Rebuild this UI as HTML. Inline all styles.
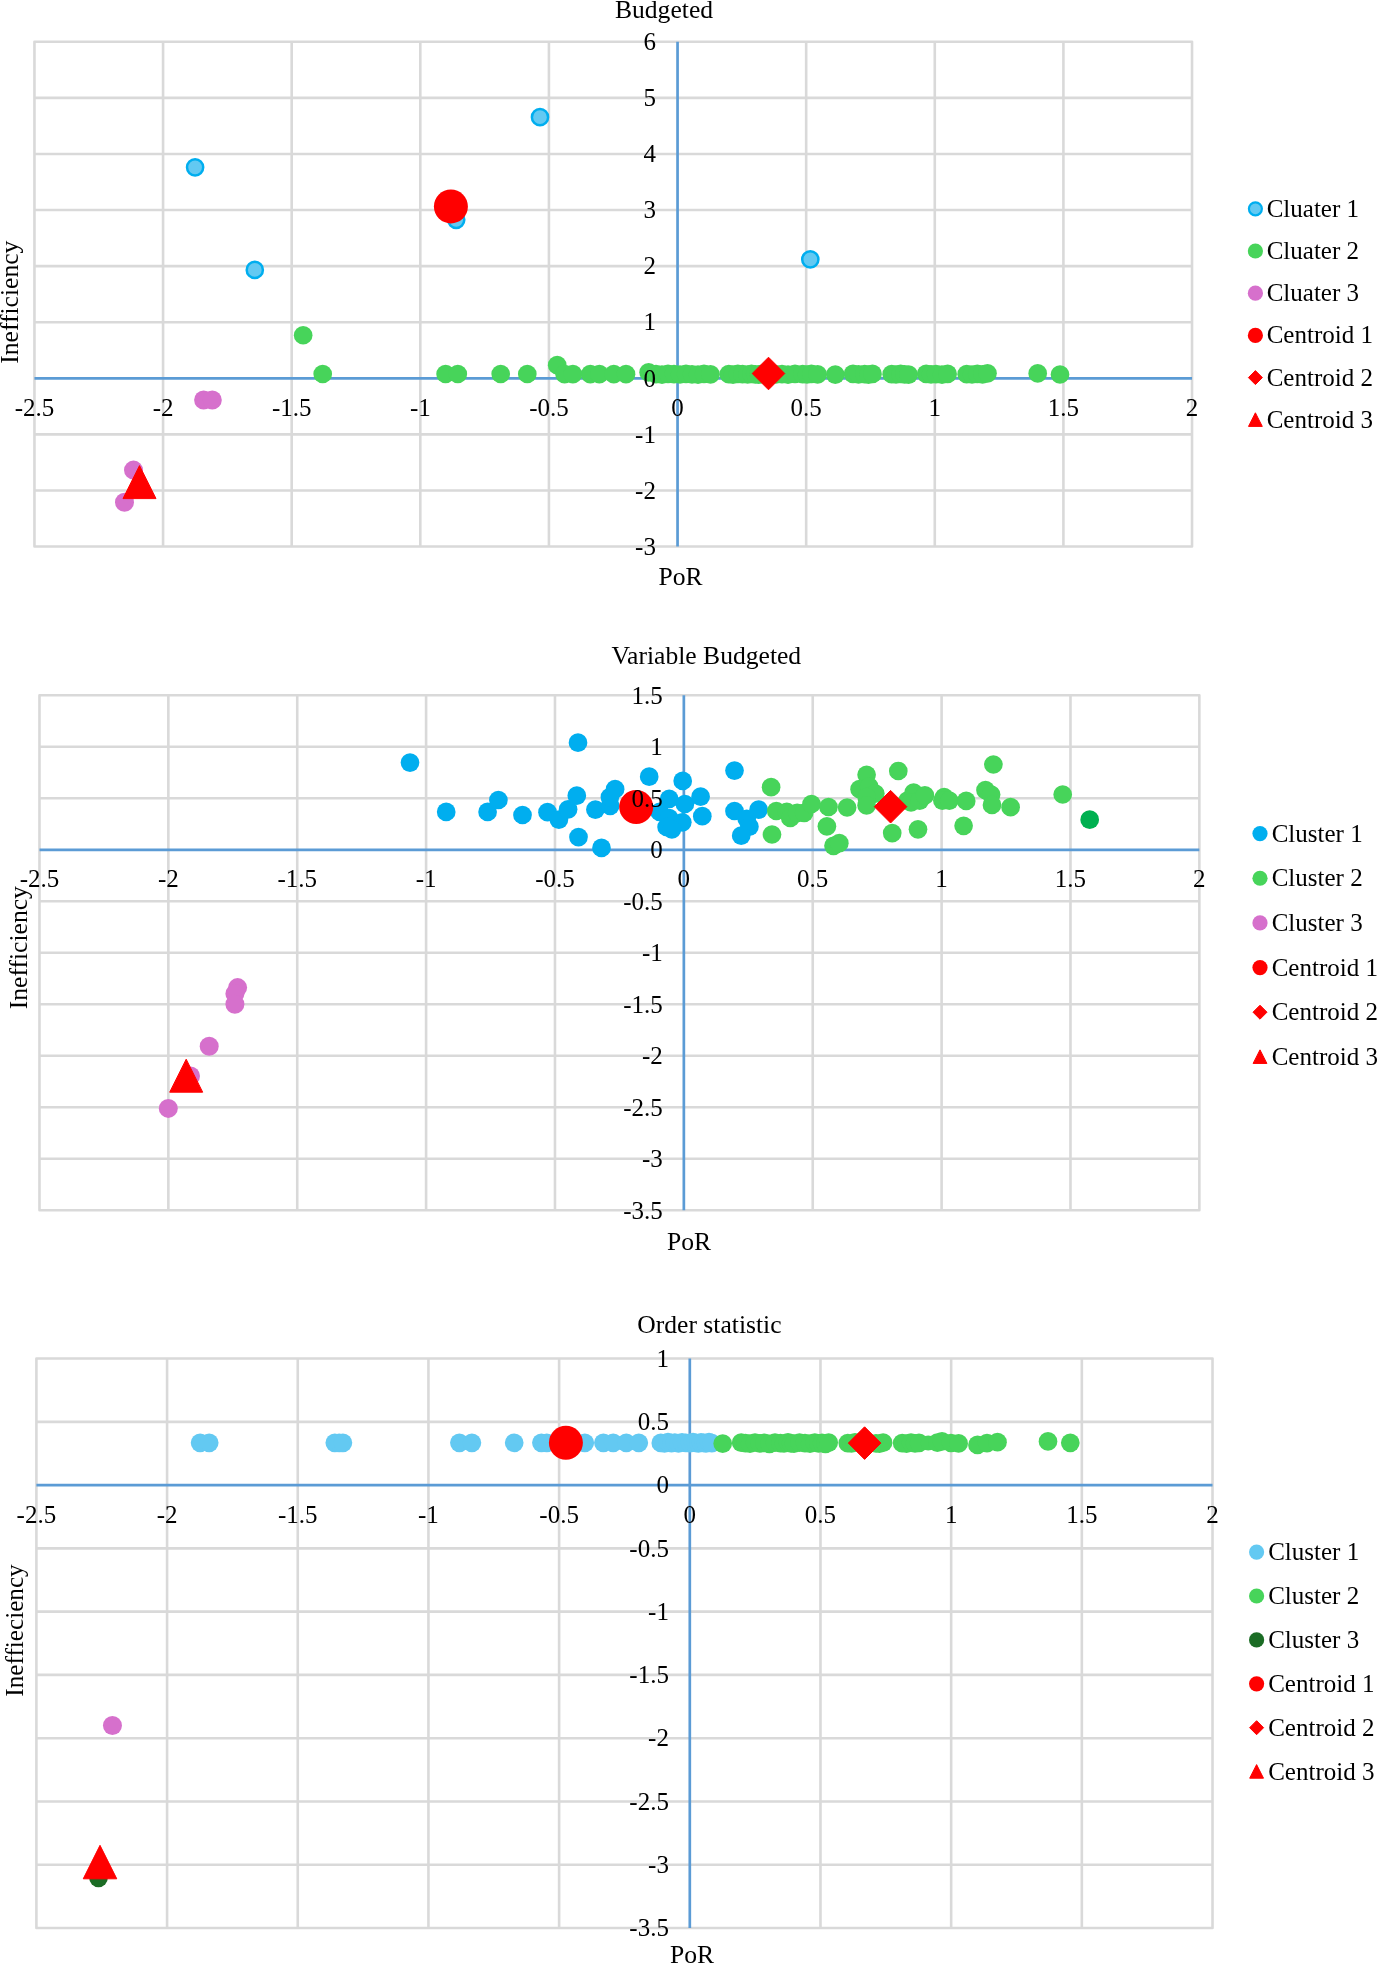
<!DOCTYPE html>
<html><head><meta charset="utf-8"><title>Clusters</title>
<style>html,body{margin:0;padding:0;background:#fff;}svg{display:block;will-change:transform;}text{font-family:"Liberation Serif",serif;font-size:25.6px;fill:#000;}.s,.s text{font-size:25px;}</style>
</head><body>
<svg width="1378" height="1965" viewBox="0 0 1378 1965">
<rect width="1378" height="1965" fill="#fff"/>
<g stroke="#d9d9d9" stroke-width="2.6" fill="none">
<path d="M34.45 490.46H1192.03M34.45 434.38H1192.03M34.45 322.22H1192.03M34.45 266.14H1192.03M34.45 210.06H1192.03M34.45 153.98H1192.03M34.45 97.9H1192.03M163.07 41.82V546.54M291.69 41.82V546.54M420.31 41.82V546.54M548.93 41.82V546.54M806.17 41.82V546.54M934.79 41.82V546.54M1063.41 41.82V546.54"/>
<rect x="34.45" y="41.82" width="1157.58" height="504.72" stroke-linejoin="round"/>
</g>
<g stroke="#5b9bd5" stroke-width="2.7" fill="none">
<path d="M34.45 378.3H1192.03"/>
<path d="M677.55 41.82V546.54"/>
</g>
<circle cx="195.1" cy="167.3" r="8.1" fill="#63c9f2" stroke="#00aeef" stroke-width="2.5"/>
<circle cx="254.8" cy="269.9" r="8.1" fill="#63c9f2" stroke="#00aeef" stroke-width="2.5"/>
<circle cx="540" cy="117.2" r="8.1" fill="#63c9f2" stroke="#00aeef" stroke-width="2.5"/>
<circle cx="456.2" cy="219.8" r="8.1" fill="#63c9f2" stroke="#00aeef" stroke-width="2.5"/>
<circle cx="810.3" cy="259.4" r="8.1" fill="#63c9f2" stroke="#00aeef" stroke-width="2.5"/>
<circle cx="303.15" cy="335.25" r="9.35" fill="#47d45a"/>
<circle cx="322.7" cy="374" r="9.35" fill="#47d45a"/>
<circle cx="445.6" cy="374" r="9.35" fill="#47d45a"/>
<circle cx="457.8" cy="374" r="9.35" fill="#47d45a"/>
<circle cx="500.7" cy="374" r="9.35" fill="#47d45a"/>
<circle cx="527.3" cy="374" r="9.35" fill="#47d45a"/>
<circle cx="557.2" cy="365.2" r="9.35" fill="#47d45a"/>
<circle cx="648.6" cy="372.3" r="9.35" fill="#47d45a"/>
<circle cx="564.6" cy="374.2" r="9.35" fill="#47d45a"/>
<circle cx="572.9" cy="374.2" r="9.35" fill="#47d45a"/>
<circle cx="590.3" cy="374.2" r="9.35" fill="#47d45a"/>
<circle cx="599.4" cy="374.2" r="9.35" fill="#47d45a"/>
<circle cx="613.8" cy="374.2" r="9.35" fill="#47d45a"/>
<circle cx="626" cy="374.2" r="9.35" fill="#47d45a"/>
<circle cx="656" cy="374.1" r="9.35" fill="#47d45a"/>
<circle cx="662" cy="374.6" r="9.35" fill="#47d45a"/>
<circle cx="668" cy="373.9" r="9.35" fill="#47d45a"/>
<circle cx="674" cy="374.2" r="9.35" fill="#47d45a"/>
<circle cx="680" cy="374.5" r="9.35" fill="#47d45a"/>
<circle cx="686" cy="373.9" r="9.35" fill="#47d45a"/>
<circle cx="692" cy="374.3" r="9.35" fill="#47d45a"/>
<circle cx="698" cy="374.6" r="9.35" fill="#47d45a"/>
<circle cx="704" cy="373.8" r="9.35" fill="#47d45a"/>
<circle cx="710.5" cy="374.4" r="9.35" fill="#47d45a"/>
<circle cx="728.8" cy="374.1" r="9.35" fill="#47d45a"/>
<circle cx="733" cy="374.6" r="9.35" fill="#47d45a"/>
<circle cx="737.8" cy="373.9" r="9.35" fill="#47d45a"/>
<circle cx="742.5" cy="374.2" r="9.35" fill="#47d45a"/>
<circle cx="747.6" cy="374.5" r="9.35" fill="#47d45a"/>
<circle cx="751.5" cy="373.9" r="9.35" fill="#47d45a"/>
<circle cx="755.2" cy="374.3" r="9.35" fill="#47d45a"/>
<circle cx="758.5" cy="374.6" r="9.35" fill="#47d45a"/>
<circle cx="762" cy="373.8" r="9.35" fill="#47d45a"/>
<circle cx="776" cy="374.4" r="9.35" fill="#47d45a"/>
<circle cx="782" cy="374.1" r="9.35" fill="#47d45a"/>
<circle cx="788" cy="374.6" r="9.35" fill="#47d45a"/>
<circle cx="795" cy="373.9" r="9.35" fill="#47d45a"/>
<circle cx="802.7" cy="374.2" r="9.35" fill="#47d45a"/>
<circle cx="807" cy="374.5" r="9.35" fill="#47d45a"/>
<circle cx="811.4" cy="373.9" r="9.35" fill="#47d45a"/>
<circle cx="817.6" cy="374.3" r="9.35" fill="#47d45a"/>
<circle cx="835.3" cy="374.6" r="9.35" fill="#47d45a"/>
<circle cx="853" cy="373.8" r="9.35" fill="#47d45a"/>
<circle cx="858.5" cy="374.4" r="9.35" fill="#47d45a"/>
<circle cx="864.7" cy="374.1" r="9.35" fill="#47d45a"/>
<circle cx="868.5" cy="374.6" r="9.35" fill="#47d45a"/>
<circle cx="872.5" cy="373.9" r="9.35" fill="#47d45a"/>
<circle cx="891.7" cy="374.2" r="9.35" fill="#47d45a"/>
<circle cx="896" cy="374.5" r="9.35" fill="#47d45a"/>
<circle cx="900.6" cy="373.9" r="9.35" fill="#47d45a"/>
<circle cx="904.5" cy="374.3" r="9.35" fill="#47d45a"/>
<circle cx="908.6" cy="374.6" r="9.35" fill="#47d45a"/>
<circle cx="926.2" cy="373.8" r="9.35" fill="#47d45a"/>
<circle cx="931" cy="374.4" r="9.35" fill="#47d45a"/>
<circle cx="936" cy="374.1" r="9.35" fill="#47d45a"/>
<circle cx="942" cy="374.6" r="9.35" fill="#47d45a"/>
<circle cx="947.6" cy="373.9" r="9.35" fill="#47d45a"/>
<circle cx="966.7" cy="374.2" r="9.35" fill="#47d45a"/>
<circle cx="972" cy="374.5" r="9.35" fill="#47d45a"/>
<circle cx="977.3" cy="373.9" r="9.35" fill="#47d45a"/>
<circle cx="982.5" cy="374.3" r="9.35" fill="#47d45a"/>
<circle cx="987.5" cy="373.3" r="9.35" fill="#47d45a"/>
<circle cx="1037.7" cy="373.4" r="9.35" fill="#47d45a"/>
<circle cx="1060" cy="374.5" r="9.35" fill="#47d45a"/>
<circle cx="203.6" cy="400" r="9.5" fill="#d670cc"/>
<circle cx="212.3" cy="400" r="9.5" fill="#d670cc"/>
<circle cx="133.5" cy="470.1" r="9.5" fill="#d670cc"/>
<circle cx="124.5" cy="502.3" r="9.5" fill="#d670cc"/>
<circle cx="450.9" cy="206.4" r="17" fill="#ff0000"/>
<path d="M768.5 357.2L784.8 373.5L768.5 389.8L752.2 373.5Z" fill="#ff0000" stroke="#ff0000" stroke-width="1" stroke-linejoin="round"/>
<path d="M139.5 465.6L156 498.6L123 498.6Z" fill="#ff0000" stroke="#ff0000" stroke-width="1" stroke-linejoin="round"/>
<g class="s">
<text x="34.45" y="416.3" text-anchor="middle">-2.5</text>
<text x="163.07" y="416.3" text-anchor="middle">-2</text>
<text x="291.69" y="416.3" text-anchor="middle">-1.5</text>
<text x="420.31" y="416.3" text-anchor="middle">-1</text>
<text x="548.93" y="416.3" text-anchor="middle">-0.5</text>
<text x="677.55" y="416.3" text-anchor="middle">0</text>
<text x="806.17" y="416.3" text-anchor="middle">0.5</text>
<text x="934.79" y="416.3" text-anchor="middle">1</text>
<text x="1063.41" y="416.3" text-anchor="middle">1.5</text>
<text x="1192.03" y="416.3" text-anchor="middle">2</text>
<text x="655.95" y="554.74" text-anchor="end">-3</text>
<text x="655.95" y="498.66" text-anchor="end">-2</text>
<text x="655.95" y="442.58" text-anchor="end">-1</text>
<text x="655.95" y="386.5" text-anchor="end">0</text>
<text x="655.95" y="330.42" text-anchor="end">1</text>
<text x="655.95" y="274.34" text-anchor="end">2</text>
<text x="655.95" y="218.26" text-anchor="end">3</text>
<text x="655.95" y="162.18" text-anchor="end">4</text>
<text x="655.95" y="106.1" text-anchor="end">5</text>
<text x="655.95" y="50.02" text-anchor="end">6</text>
</g>
<text x="664" y="17.5" text-anchor="middle">Budgeted</text>
<text x="680.5" y="584.6" text-anchor="middle">PoR</text>
<text transform="translate(18.1 302.2) rotate(-90)" text-anchor="middle">Inefficiency</text>
<circle cx="1255.4" cy="208.8" r="6.5" fill="#63c9f2" stroke="#00aeef" stroke-width="2.2"/>
<text x="1266.7" y="216.8" text-anchor="start" class="s">Cluater 1</text>
<circle cx="1255.4" cy="251" r="7.6" fill="#47d45a"/>
<text x="1266.7" y="259" text-anchor="start" class="s">Cluater 2</text>
<circle cx="1255.4" cy="293.2" r="7.6" fill="#d670cc"/>
<text x="1266.7" y="301.2" text-anchor="start" class="s">Cluater 3</text>
<circle cx="1255.4" cy="335.4" r="7.6" fill="#ff0000"/>
<text x="1266.7" y="343.4" text-anchor="start" class="s">Centroid 1</text>
<path d="M1255.4 370.6L1262.4 377.6L1255.4 384.6L1248.4 377.6Z" fill="#ff0000" stroke="#ff0000" stroke-width="1" stroke-linejoin="round"/>
<text x="1266.7" y="385.6" text-anchor="start" class="s">Centroid 2</text>
<path d="M1255.4 412.8L1262.3 426.4L1248.5 426.4Z" fill="#ff0000" stroke="#ff0000" stroke-width="1" stroke-linejoin="round"/>
<text x="1266.7" y="427.8" text-anchor="start" class="s">Centroid 3</text>
<g stroke="#d9d9d9" stroke-width="2.6" fill="none">
<path d="M39.48 1158.8H1199.35M39.48 1107.3H1199.35M39.48 1055.8H1199.35M39.48 1004.3H1199.35M39.48 952.8H1199.35M39.48 901.3H1199.35M39.48 798.3H1199.35M39.48 746.8H1199.35M168.35 695.3V1210.3M297.23 695.3V1210.3M426.1 695.3V1210.3M554.98 695.3V1210.3M812.73 695.3V1210.3M941.6 695.3V1210.3M1070.47 695.3V1210.3"/>
<rect x="39.48" y="695.3" width="1159.88" height="515" stroke-linejoin="round"/>
</g>
<g stroke="#5b9bd5" stroke-width="2.7" fill="none">
<path d="M39.48 849.8H1199.35"/>
<path d="M683.85 695.3V1210.3"/>
</g>
<circle cx="410" cy="762.6" r="9.35" fill="#00aeef"/>
<circle cx="446.2" cy="811.9" r="9.35" fill="#00aeef"/>
<circle cx="487.6" cy="811.9" r="9.35" fill="#00aeef"/>
<circle cx="498.4" cy="800" r="9.35" fill="#00aeef"/>
<circle cx="522.5" cy="815" r="9.35" fill="#00aeef"/>
<circle cx="547.5" cy="812.2" r="9.35" fill="#00aeef"/>
<circle cx="558.9" cy="819.7" r="9.35" fill="#00aeef"/>
<circle cx="568.1" cy="809.3" r="9.35" fill="#00aeef"/>
<circle cx="576.8" cy="795.7" r="9.35" fill="#00aeef"/>
<circle cx="578" cy="742.7" r="9.35" fill="#00aeef"/>
<circle cx="578.5" cy="837.1" r="9.35" fill="#00aeef"/>
<circle cx="595.4" cy="809.6" r="9.35" fill="#00aeef"/>
<circle cx="601.5" cy="847.9" r="9.35" fill="#00aeef"/>
<circle cx="610.2" cy="805.8" r="9.35" fill="#00aeef"/>
<circle cx="609.9" cy="797" r="9.35" fill="#00aeef"/>
<circle cx="615.1" cy="789.2" r="9.35" fill="#00aeef"/>
<circle cx="649.2" cy="776.7" r="9.35" fill="#00aeef"/>
<circle cx="682.7" cy="780.9" r="9.35" fill="#00aeef"/>
<circle cx="734.5" cy="770.6" r="9.35" fill="#00aeef"/>
<circle cx="669.2" cy="798.8" r="9.35" fill="#00aeef"/>
<circle cx="684.9" cy="804" r="9.35" fill="#00aeef"/>
<circle cx="700.6" cy="796.7" r="9.35" fill="#00aeef"/>
<circle cx="702.3" cy="816.2" r="9.35" fill="#00aeef"/>
<circle cx="659.7" cy="811.9" r="9.35" fill="#00aeef"/>
<circle cx="669.2" cy="818" r="9.35" fill="#00aeef"/>
<circle cx="682.3" cy="822.3" r="9.35" fill="#00aeef"/>
<circle cx="666.6" cy="827" r="9.35" fill="#00aeef"/>
<circle cx="671.9" cy="829.3" r="9.35" fill="#00aeef"/>
<circle cx="734.5" cy="811" r="9.35" fill="#00aeef"/>
<circle cx="758.6" cy="809.6" r="9.35" fill="#00aeef"/>
<circle cx="746.7" cy="818.8" r="9.35" fill="#00aeef"/>
<circle cx="749.4" cy="826.7" r="9.35" fill="#00aeef"/>
<circle cx="741.2" cy="835.7" r="9.35" fill="#00aeef"/>
<circle cx="771.1" cy="787.2" r="9.35" fill="#47d45a"/>
<circle cx="772" cy="834.5" r="9.35" fill="#47d45a"/>
<circle cx="776.3" cy="811" r="9.35" fill="#47d45a"/>
<circle cx="786.8" cy="811.9" r="9.35" fill="#47d45a"/>
<circle cx="790.3" cy="818" r="9.35" fill="#47d45a"/>
<circle cx="797.2" cy="812.8" r="9.35" fill="#47d45a"/>
<circle cx="804.2" cy="812.8" r="9.35" fill="#47d45a"/>
<circle cx="811.5" cy="804" r="9.35" fill="#47d45a"/>
<circle cx="828.5" cy="807" r="9.35" fill="#47d45a"/>
<circle cx="826.9" cy="826.3" r="9.35" fill="#47d45a"/>
<circle cx="833.5" cy="845.8" r="9.35" fill="#47d45a"/>
<circle cx="839.3" cy="843.2" r="9.35" fill="#47d45a"/>
<circle cx="847.1" cy="807.5" r="9.35" fill="#47d45a"/>
<circle cx="866.6" cy="774.8" r="9.35" fill="#47d45a"/>
<circle cx="859.6" cy="789.2" r="9.35" fill="#47d45a"/>
<circle cx="869.2" cy="786.6" r="9.35" fill="#47d45a"/>
<circle cx="875.3" cy="793.6" r="9.35" fill="#47d45a"/>
<circle cx="866.6" cy="797" r="9.35" fill="#47d45a"/>
<circle cx="866.6" cy="805.4" r="9.35" fill="#47d45a"/>
<circle cx="898.3" cy="771" r="9.35" fill="#47d45a"/>
<circle cx="892.2" cy="833.1" r="9.35" fill="#47d45a"/>
<circle cx="918" cy="829.3" r="9.35" fill="#47d45a"/>
<circle cx="907.5" cy="800.6" r="9.35" fill="#47d45a"/>
<circle cx="913.6" cy="792.7" r="9.35" fill="#47d45a"/>
<circle cx="911" cy="802.3" r="9.35" fill="#47d45a"/>
<circle cx="919.7" cy="800.6" r="9.35" fill="#47d45a"/>
<circle cx="924.9" cy="795.3" r="9.35" fill="#47d45a"/>
<circle cx="944.1" cy="797.1" r="9.35" fill="#47d45a"/>
<circle cx="942.4" cy="800.6" r="9.35" fill="#47d45a"/>
<circle cx="949.3" cy="800.6" r="9.35" fill="#47d45a"/>
<circle cx="966.2" cy="800.9" r="9.35" fill="#47d45a"/>
<circle cx="963.6" cy="825.8" r="9.35" fill="#47d45a"/>
<circle cx="993.4" cy="764.5" r="9.35" fill="#47d45a"/>
<circle cx="985.5" cy="790.1" r="9.35" fill="#47d45a"/>
<circle cx="991.1" cy="794.5" r="9.35" fill="#47d45a"/>
<circle cx="992" cy="804.9" r="9.35" fill="#47d45a"/>
<circle cx="1010.6" cy="807.2" r="9.35" fill="#47d45a"/>
<circle cx="1062.7" cy="794.5" r="9.35" fill="#47d45a"/>
<circle cx="1089.7" cy="819.7" r="9.35" fill="#00b050"/>
<circle cx="237.6" cy="987.6" r="9.5" fill="#d670cc"/>
<circle cx="234.9" cy="993.8" r="9.5" fill="#d670cc"/>
<circle cx="234.9" cy="1004.2" r="9.5" fill="#d670cc"/>
<circle cx="209.2" cy="1046.3" r="9.5" fill="#d670cc"/>
<circle cx="190.5" cy="1076" r="9.5" fill="#d670cc"/>
<circle cx="168.3" cy="1108.4" r="9.5" fill="#d670cc"/>
<circle cx="636.2" cy="807" r="17" fill="#ff0000"/>
<path d="M890.6 790.4L906.9 806.7L890.6 823L874.3 806.7Z" fill="#ff0000" stroke="#ff0000" stroke-width="1" stroke-linejoin="round"/>
<path d="M186.2 1059.2L202.7 1092.2L169.7 1092.2Z" fill="#ff0000" stroke="#ff0000" stroke-width="1" stroke-linejoin="round"/>
<g class="s">
<text x="39.48" y="887.4" text-anchor="middle">-2.5</text>
<text x="168.35" y="887.4" text-anchor="middle">-2</text>
<text x="297.23" y="887.4" text-anchor="middle">-1.5</text>
<text x="426.1" y="887.4" text-anchor="middle">-1</text>
<text x="554.98" y="887.4" text-anchor="middle">-0.5</text>
<text x="683.85" y="887.4" text-anchor="middle">0</text>
<text x="812.73" y="887.4" text-anchor="middle">0.5</text>
<text x="941.6" y="887.4" text-anchor="middle">1</text>
<text x="1070.47" y="887.4" text-anchor="middle">1.5</text>
<text x="1199.35" y="887.4" text-anchor="middle">2</text>
<text x="662.75" y="1218.6" text-anchor="end">-3.5</text>
<text x="662.75" y="1167.1" text-anchor="end">-3</text>
<text x="662.75" y="1115.6" text-anchor="end">-2.5</text>
<text x="662.75" y="1064.1" text-anchor="end">-2</text>
<text x="662.75" y="1012.6" text-anchor="end">-1.5</text>
<text x="662.75" y="961.1" text-anchor="end">-1</text>
<text x="662.75" y="909.6" text-anchor="end">-0.5</text>
<text x="662.75" y="858.1" text-anchor="end">0</text>
<text x="662.75" y="806.6" text-anchor="end">0.5</text>
<text x="662.75" y="755.1" text-anchor="end">1</text>
<text x="662.75" y="703.6" text-anchor="end">1.5</text>
</g>
<text x="706.3" y="664" text-anchor="middle">Variable Budgeted</text>
<text x="689" y="1249.7" text-anchor="middle">PoR</text>
<text transform="translate(26.5 947.7) rotate(-90)" text-anchor="middle">Inefficiency</text>
<circle cx="1260" cy="833.6" r="7.6" fill="#00aeef"/>
<text x="1271.7" y="841.6" text-anchor="start" class="s">Cluster 1</text>
<circle cx="1260" cy="878.25" r="7.6" fill="#47d45a"/>
<text x="1271.7" y="886.25" text-anchor="start" class="s">Cluster 2</text>
<circle cx="1260" cy="922.9" r="7.6" fill="#d670cc"/>
<text x="1271.7" y="930.9" text-anchor="start" class="s">Cluster 3</text>
<circle cx="1260" cy="967.55" r="7.6" fill="#ff0000"/>
<text x="1271.7" y="975.55" text-anchor="start" class="s">Centroid 1</text>
<path d="M1260 1005.2L1267 1012.2L1260 1019.2L1253 1012.2Z" fill="#ff0000" stroke="#ff0000" stroke-width="1" stroke-linejoin="round"/>
<text x="1271.7" y="1020.2" text-anchor="start" class="s">Centroid 2</text>
<path d="M1260 1049.85L1266.9 1063.45L1253.1 1063.45Z" fill="#ff0000" stroke="#ff0000" stroke-width="1" stroke-linejoin="round"/>
<text x="1271.7" y="1064.85" text-anchor="start" class="s">Centroid 3</text>
<g stroke="#d9d9d9" stroke-width="2.6" fill="none">
<path d="M36.4 1864.72H1212.52M36.4 1801.45H1212.52M36.4 1738.18H1212.52M36.4 1674.91H1212.52M36.4 1611.64H1212.52M36.4 1548.37H1212.52M36.4 1421.83H1212.52M167.08 1358.56V1927.99M297.76 1358.56V1927.99M428.44 1358.56V1927.99M559.12 1358.56V1927.99M820.48 1358.56V1927.99M951.16 1358.56V1927.99M1081.84 1358.56V1927.99"/>
<rect x="36.4" y="1358.56" width="1176.12" height="569.43" stroke-linejoin="round"/>
</g>
<g stroke="#5b9bd5" stroke-width="2.7" fill="none">
<path d="M36.4 1485.1H1212.52"/>
<path d="M689.8 1358.56V1927.99"/>
</g>
<circle cx="200.1" cy="1442.8" r="9.35" fill="#63c9f2"/>
<circle cx="209.2" cy="1442.8" r="9.35" fill="#63c9f2"/>
<circle cx="334.8" cy="1442.8" r="9.35" fill="#63c9f2"/>
<circle cx="339.2" cy="1442.8" r="9.35" fill="#63c9f2"/>
<circle cx="342.9" cy="1442.8" r="9.35" fill="#63c9f2"/>
<circle cx="459.4" cy="1442.8" r="9.35" fill="#63c9f2"/>
<circle cx="471.9" cy="1442.8" r="9.35" fill="#63c9f2"/>
<circle cx="514.2" cy="1442.8" r="9.35" fill="#63c9f2"/>
<circle cx="541.4" cy="1442.8" r="9.35" fill="#63c9f2"/>
<circle cx="546.8" cy="1442.8" r="9.35" fill="#63c9f2"/>
<circle cx="584.8" cy="1442.8" r="9.35" fill="#63c9f2"/>
<circle cx="603.4" cy="1442.8" r="9.35" fill="#63c9f2"/>
<circle cx="613.2" cy="1442.8" r="9.35" fill="#63c9f2"/>
<circle cx="626.3" cy="1442.8" r="9.35" fill="#63c9f2"/>
<circle cx="638.8" cy="1442.8" r="9.35" fill="#63c9f2"/>
<circle cx="660.8" cy="1442.9" r="9.35" fill="#63c9f2"/>
<circle cx="664.5" cy="1443.4" r="9.35" fill="#63c9f2"/>
<circle cx="668" cy="1442.2" r="9.35" fill="#63c9f2"/>
<circle cx="671.5" cy="1443.1" r="9.35" fill="#63c9f2"/>
<circle cx="674.8" cy="1442.6" r="9.35" fill="#63c9f2"/>
<circle cx="678.5" cy="1443.5" r="9.35" fill="#63c9f2"/>
<circle cx="682" cy="1442.3" r="9.35" fill="#63c9f2"/>
<circle cx="686" cy="1442.8" r="9.35" fill="#63c9f2"/>
<circle cx="690" cy="1443.2" r="9.35" fill="#63c9f2"/>
<circle cx="693" cy="1442.1" r="9.35" fill="#63c9f2"/>
<circle cx="696" cy="1443" r="9.35" fill="#63c9f2"/>
<circle cx="698.5" cy="1443.3" r="9.35" fill="#63c9f2"/>
<circle cx="701" cy="1442.4" r="9.35" fill="#63c9f2"/>
<circle cx="703.5" cy="1442.9" r="9.35" fill="#63c9f2"/>
<circle cx="706" cy="1443.4" r="9.35" fill="#63c9f2"/>
<circle cx="709" cy="1442.2" r="9.35" fill="#63c9f2"/>
<circle cx="711.8" cy="1443.1" r="9.35" fill="#63c9f2"/>
<circle cx="722.7" cy="1443.6" r="9.35" fill="#47d45a"/>
<circle cx="741.2" cy="1442.7" r="9.35" fill="#47d45a"/>
<circle cx="745.5" cy="1443.2" r="9.35" fill="#47d45a"/>
<circle cx="750" cy="1443.7" r="9.35" fill="#47d45a"/>
<circle cx="755" cy="1442.5" r="9.35" fill="#47d45a"/>
<circle cx="759.7" cy="1443.4" r="9.35" fill="#47d45a"/>
<circle cx="764.5" cy="1442.9" r="9.35" fill="#47d45a"/>
<circle cx="769.5" cy="1443.8" r="9.35" fill="#47d45a"/>
<circle cx="775" cy="1442.6" r="9.35" fill="#47d45a"/>
<circle cx="780.4" cy="1443.1" r="9.35" fill="#47d45a"/>
<circle cx="784" cy="1443.5" r="9.35" fill="#47d45a"/>
<circle cx="788" cy="1442.4" r="9.35" fill="#47d45a"/>
<circle cx="791" cy="1443.3" r="9.35" fill="#47d45a"/>
<circle cx="794" cy="1443.6" r="9.35" fill="#47d45a"/>
<circle cx="799.5" cy="1442.7" r="9.35" fill="#47d45a"/>
<circle cx="805" cy="1443.2" r="9.35" fill="#47d45a"/>
<circle cx="810" cy="1443.7" r="9.35" fill="#47d45a"/>
<circle cx="814.8" cy="1442.5" r="9.35" fill="#47d45a"/>
<circle cx="818.5" cy="1443.4" r="9.35" fill="#47d45a"/>
<circle cx="822" cy="1442.9" r="9.35" fill="#47d45a"/>
<circle cx="825.5" cy="1443.8" r="9.35" fill="#47d45a"/>
<circle cx="828.7" cy="1442.6" r="9.35" fill="#47d45a"/>
<circle cx="847.8" cy="1443.1" r="9.35" fill="#47d45a"/>
<circle cx="851.5" cy="1443.5" r="9.35" fill="#47d45a"/>
<circle cx="855" cy="1442.4" r="9.35" fill="#47d45a"/>
<circle cx="876" cy="1443.3" r="9.35" fill="#47d45a"/>
<circle cx="879.5" cy="1443.6" r="9.35" fill="#47d45a"/>
<circle cx="883.1" cy="1442.7" r="9.35" fill="#47d45a"/>
<circle cx="902.2" cy="1443.2" r="9.35" fill="#47d45a"/>
<circle cx="906.5" cy="1443.7" r="9.35" fill="#47d45a"/>
<circle cx="911" cy="1442.5" r="9.35" fill="#47d45a"/>
<circle cx="915" cy="1443.4" r="9.35" fill="#47d45a"/>
<circle cx="919" cy="1442.9" r="9.35" fill="#47d45a"/>
<circle cx="928.2" cy="1443" r="7.6" fill="#47d45a"/>
<circle cx="937.4" cy="1442.7" r="9.35" fill="#47d45a"/>
<circle cx="942" cy="1441.4" r="9.35" fill="#47d45a"/>
<circle cx="951" cy="1443" r="9.35" fill="#47d45a"/>
<circle cx="958.6" cy="1443.4" r="9.35" fill="#47d45a"/>
<circle cx="977.5" cy="1444.9" r="9.35" fill="#47d45a"/>
<circle cx="987" cy="1443.2" r="9.35" fill="#47d45a"/>
<circle cx="997.5" cy="1442.2" r="9.35" fill="#47d45a"/>
<circle cx="1048" cy="1441.4" r="9.35" fill="#47d45a"/>
<circle cx="1070.3" cy="1442.8" r="9.35" fill="#47d45a"/>
<circle cx="112.45" cy="1725.5" r="9.5" fill="#d670cc"/>
<circle cx="98.5" cy="1877.8" r="9.35" fill="#1b6c25"/>
<circle cx="565.9" cy="1442.8" r="17" fill="#ff0000"/>
<path d="M864.6 1426.8L880.9 1443.1L864.6 1459.4L848.3 1443.1Z" fill="#ff0000" stroke="#ff0000" stroke-width="1" stroke-linejoin="round"/>
<path d="M100 1845.3L116.75 1878.8L83.25 1878.8Z" fill="#ff0000" stroke="#ff0000" stroke-width="1" stroke-linejoin="round"/>
<g class="s">
<text x="36.4" y="1523.1" text-anchor="middle">-2.5</text>
<text x="167.08" y="1523.1" text-anchor="middle">-2</text>
<text x="297.76" y="1523.1" text-anchor="middle">-1.5</text>
<text x="428.44" y="1523.1" text-anchor="middle">-1</text>
<text x="559.12" y="1523.1" text-anchor="middle">-0.5</text>
<text x="689.8" y="1523.1" text-anchor="middle">0</text>
<text x="820.48" y="1523.1" text-anchor="middle">0.5</text>
<text x="951.16" y="1523.1" text-anchor="middle">1</text>
<text x="1081.84" y="1523.1" text-anchor="middle">1.5</text>
<text x="1212.52" y="1523.1" text-anchor="middle">2</text>
<text x="668.9" y="1936.19" text-anchor="end">-3.5</text>
<text x="668.9" y="1872.92" text-anchor="end">-3</text>
<text x="668.9" y="1809.65" text-anchor="end">-2.5</text>
<text x="668.9" y="1746.38" text-anchor="end">-2</text>
<text x="668.9" y="1683.11" text-anchor="end">-1.5</text>
<text x="668.9" y="1619.84" text-anchor="end">-1</text>
<text x="668.9" y="1556.57" text-anchor="end">-0.5</text>
<text x="668.9" y="1493.3" text-anchor="end">0</text>
<text x="668.9" y="1430.03" text-anchor="end">0.5</text>
<text x="668.9" y="1366.76" text-anchor="end">1</text>
</g>
<text x="709.4" y="1333" text-anchor="middle">Order statistic</text>
<text x="692" y="1963.2" text-anchor="middle">PoR</text>
<text transform="translate(22.6 1630.5) rotate(-90) scale(0.984 1)" text-anchor="middle">Ineffieciency</text>
<circle cx="1256.6" cy="1552.1" r="7.6" fill="#63c9f2"/>
<text x="1268.2" y="1560.1" text-anchor="start" class="s">Cluster 1</text>
<circle cx="1256.6" cy="1596" r="7.6" fill="#47d45a"/>
<text x="1268.2" y="1604" text-anchor="start" class="s">Cluster 2</text>
<circle cx="1256.6" cy="1639.9" r="7.6" fill="#1b6c25"/>
<text x="1268.2" y="1647.9" text-anchor="start" class="s">Cluster 3</text>
<circle cx="1256.6" cy="1683.8" r="7.6" fill="#ff0000"/>
<text x="1268.2" y="1691.8" text-anchor="start" class="s">Centroid 1</text>
<path d="M1256.6 1720.7L1263.6 1727.7L1256.6 1734.7L1249.6 1727.7Z" fill="#ff0000" stroke="#ff0000" stroke-width="1" stroke-linejoin="round"/>
<text x="1268.2" y="1735.7" text-anchor="start" class="s">Centroid 2</text>
<path d="M1256.6 1764.6L1263.5 1778.2L1249.7 1778.2Z" fill="#ff0000" stroke="#ff0000" stroke-width="1" stroke-linejoin="round"/>
<text x="1268.2" y="1779.6" text-anchor="start" class="s">Centroid 3</text>
</svg></body></html>
